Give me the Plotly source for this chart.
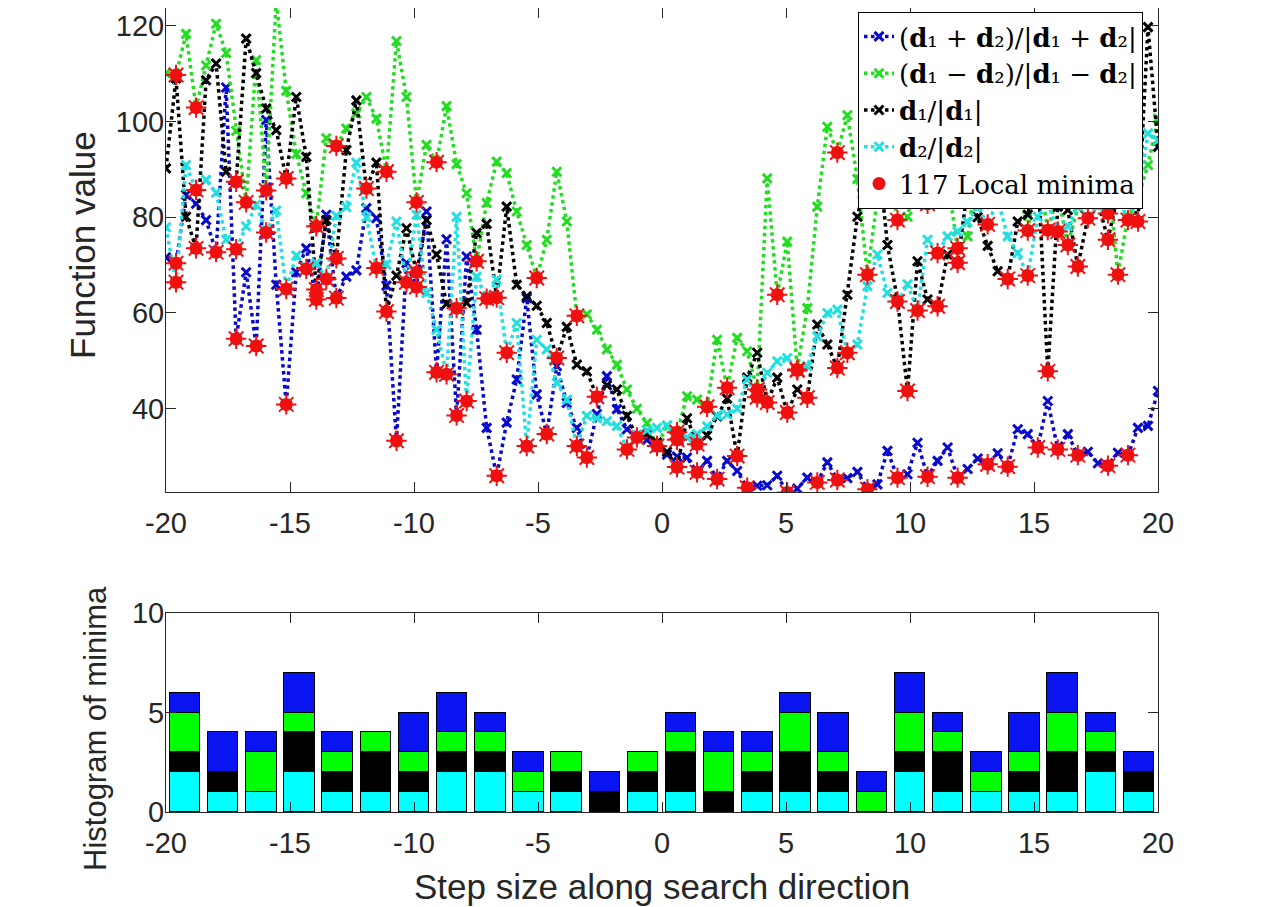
import numpy as np
import plotly.graph_objs as go

# step sizes along the search direction (100 samples from -20 to 20)
step_size = np.linspace(-20, 20, 100)

# function value along each search direction
f_sum = [71.6, 70.4, 84.7, 82.8, 79.4, 72.7, 107.1, 54.6, 68.5, 53.1,
         100.3, 65.9, 40.9, 68.5, 73.5, 62.8, 80.5, 63.1, 67.6, 68.9,
         81.9, 79.8, 65.7, 33.3, 70.4, 65.4, 81.2, 47.6, 75.4, 38.6,
         71.8, 56.5, 36.0, 26.0, 37.1, 46.1, 63.1, 43.0, 34.7, 48.9,
         41.2, 36.0, 29.8, 38.9, 46.8, 39.9, 35.7, 34.5, 33.5, 32.0,
         30.4, 30.0, 29.8, 26.7, 29.1, 25.3, 29.1, 27.0, 23.5, 23.9,
         24.0, 26.0, 22.5, 23.3, 25.6, 24.6, 28.8, 25.1, 25.5, 26.8,
         23.2, 24.2, 31.2, 25.6, 26.3, 32.9, 25.8, 29.1, 31.9, 25.6,
         27.4, 29.6, 28.4, 30.7, 27.9, 35.7, 34.7, 31.9, 41.6, 31.5,
         34.7, 30.3, 31.0, 28.6, 28.1, 30.8, 30.3, 36.0, 36.4, 43.7]

f_diff = [110.1, 109.7, 118.3, 102.9, 111.7, 120.4, 114.3, 98.0, 83.1, 112.8,
          85.6, 125.3, 106.4, 93.2, 85.0, 78.1, 96.5, 94.9, 98.5, 101.7,
          105.1, 100.6, 89.5, 116.8, 105.1, 83.1, 95.1, 91.5, 103.2, 91.1,
          85.0, 70.8, 83.0, 91.6, 89.2, 81.2, 74.2, 67.3, 75.3, 89.5,
          79.1, 59.4, 59.7, 56.5, 52.4, 49.2, 44.0, 40.0, 37.0, 32.2,
          36.5, 35.1, 42.6, 41.9, 40.4, 54.4, 44.4, 54.8, 52.0, 44.0,
          88.1, 63.8, 74.9, 48.2, 61.0, 82.2, 98.9, 93.5, 101.3, 88.0,
          68.0, 84.0, 92.0, 79.4, 80.1, 90.0, 82.8, 90.0, 88.0, 73.5,
          76.0, 90.0, 83.8, 92.0, 96.0, 88.0, 77.2, 90.0, 77.3, 85.0,
          74.2, 82.0, 88.0, 89.0, 91.0, 68.0, 80.2, 84.0, 90.9, 100.6]

f_d1 = [90.2, 109.0, 80.1, 73.5, 108.6, 112.1, 89.5, 87.4, 117.3, 110.1,
        102.7, 98.2, 88.1, 105.1, 92.6, 64.9, 79.4, 71.4, 94.0, 104.4,
        86.0, 91.4, 60.3, 67.8, 77.7, 68.5, 79.4, 72.2, 61.9, 61.0,
        62.1, 76.7, 78.6, 63.2, 82.2, 65.9, 63.5, 61.5, 57.9, 50.6,
        57.1, 49.2, 47.8, 42.5, 44.9, 44.0, 38.5, 34.0, 34.6, 33.0,
        31.0, 27.8, 38.0, 32.6, 34.4, 38.4, 42.1, 30.1, 46.5, 51.7,
        41.3, 46.5, 39.2, 44.0, 42.3, 57.6, 53.4, 48.5, 63.8, 80.1,
        90.0, 95.0, 74.2, 62.8, 43.7, 70.8, 62.8, 61.4, 72.2, 70.5,
        86.0, 80.0, 74.0, 68.7, 67.1, 79.1, 80.5, 90.0, 47.8, 82.2,
        81.5, 69.7, 80.0, 83.3, 75.3, 84.7, 88.0, 79.1, 119.7, 94.7]

f_d2 = [77.9, 66.4, 90.9, 85.7, 87.8, 85.1, 75.3, 73.3, 78.1, 82.6,
        76.8, 81.4, 65.0, 72.0, 69.2, 70.4, 67.1, 80.3, 82.1, 91.4,
        80.0, 69.4, 70.1, 79.1, 66.4, 80.5, 64.2, 56.5, 47.2, 80.1,
        41.6, 67.6, 63.0, 67.0, 51.7, 57.9, 32.2, 54.4, 52.4, 45.4,
        41.9, 32.2, 38.5, 38.0, 37.4, 36.4, 31.5, 34.5, 35.5, 36.0,
        36.5, 33.5, 34.0, 34.7, 36.3, 38.6, 38.8, 40.0, 46.1, 42.4,
        47.5, 49.9, 50.6, 48.0, 48.9, 55.1, 60.0, 60.7, 51.7, 53.4,
        65.6, 72.2, 64.2, 62.4, 66.0, 60.5, 75.3, 72.5, 76.0, 77.0,
        79.0, 82.2, 78.5, 83.6, 76.0, 72.5, 67.8, 80.1, 83.0, 77.0,
        78.1, 82.2, 79.8, 82.2, 80.8, 84.3, 79.4, 83.6, 97.5, 96.1]

# histogram of minima, 26 bins, stacked bottom to top: d2, d1, diff, sum
hist_d2 = [2, 1, 1, 2, 1, 1, 1, 2, 2, 1, 1, 0, 1, 1, 0, 1, 1, 1, 0, 2, 1, 1, 1, 1, 2, 1]
hist_d1 = [1, 1, 0, 2, 1, 2, 1, 1, 1, 0, 1, 1, 1, 2, 1, 1, 2, 1, 0, 1, 2, 0, 1, 2, 1, 1]
hist_diff = [2, 0, 2, 1, 1, 1, 1, 1, 1, 1, 1, 0, 1, 1, 2, 1, 2, 1, 1, 2, 1, 1, 1, 2, 1, 0]
hist_sum = [1, 2, 1, 2, 1, 0, 2, 2, 1, 1, 0, 1, 0, 1, 1, 1, 1, 2, 1, 2, 1, 1, 2, 2, 1, 1]

x_ticks = [-20, -15, -10, -5, 0, 5, 10, 15, 20]
x_tick_text = ['-20', '-15', '-10', '-5', '0', '5', '10', '15', '20']

# the page body has an 8px margin, so the figure is made that much smaller
OFF = 8
W, H = 1280 - OFF, 907 - OFF
AXIS_COLOR = '#262626'
MIN_COLOR = '#f01010'
TICK_FONT = dict(family='Liberation Sans, Arial', size=29, color=AXIS_COLOR)
LEGEND_FONT = dict(family='DejaVu Serif', size=26, color='black')


def px_x(p):
    return (p - OFF) / W


def px_y(p):
    return 1 - (p - OFF) / H


def local_minima(values):
    return [i for i in range(1, len(values) - 1)
            if values[i] < values[i - 1] and values[i] < values[i + 1]]


series = [
    ('(<b>d</b>\u2081 + <b>d</b>\u2082)/|<b>d</b>\u2081 + <b>d</b>\u2082|', f_sum, '#0808cc'),
    ('(<b>d</b>\u2081 \u2212 <b>d</b>\u2082)/|<b>d</b>\u2081 \u2212 <b>d</b>\u2082|', f_diff, '#22dd22'),
    ('<b>d</b>\u2081/|<b>d</b>\u2081|', f_d1, '#000000'),
    ('<b>d</b>\u2082/|<b>d</b>\u2082|', f_d2, '#22e0e0'),
]

fig = go.Figure()

# 折线：四个搜索方向
min_x, min_y = [], []
for name, vals, color in series:
    fig.add_trace(go.Scatter(
        x=step_size, y=vals, name=name, mode='lines+markers',
        line=dict(color=color, width=3.5, dash='dot'),
        marker=dict(symbol='x-thin', size=9, color=color, line=dict(color=color, width=3)),
        xaxis='x', yaxis='y'))
    for i in local_minima(vals):
        min_x.append(step_size[i])
        min_y.append(vals[i])

# 局部极小值（实心圆 + 星号叠加）
fig.add_trace(go.Scatter(
    x=min_x, y=min_y, name='117 Local minima', mode='markers',
    marker=dict(symbol='circle', size=13, color=MIN_COLOR, line=dict(width=0)),
    xaxis='x', yaxis='y'))
fig.add_trace(go.Scatter(
    x=min_x, y=min_y, mode='markers', showlegend=False, hoverinfo='skip',
    marker=dict(symbol='asterisk-open', size=17, color=MIN_COLOR,
                line=dict(color=MIN_COLOR, width=2)),
    xaxis='x', yaxis='y'))

# 直方图（堆叠）
n_bins = len(hist_sum)
bin_w = 40 / n_bins
centers = [-20 + bin_w * (k + 0.5) for k in range(n_bins)]
for counts, color in [(hist_d2, '#00ffff'), (hist_d1, '#000000'),
                      (hist_diff, '#00ff00'), (hist_sum, '#0a14f0')]:
    fig.add_trace(go.Bar(
        x=centers, y=counts, width=bin_w * 0.8, showlegend=False,
        marker=dict(color=color, line=dict(color='black', width=1)),
        xaxis='x2', yaxis='y2'))

x_dom = [px_x(166), px_x(1158)]
axis_common = dict(showline=True, linecolor=AXIS_COLOR, linewidth=1, mirror='ticks',
                   ticks='inside', ticklen=10, tickcolor=AXIS_COLOR, tickfont=TICK_FONT,
                   showgrid=False, zeroline=False, automargin=False)

fig.update_layout(
    template='none',
    width=W, height=H,
    margin=dict(l=0, r=0, t=0, b=0, autoexpand=False),
    paper_bgcolor='white', plot_bgcolor='white',
    barmode='stack', bargap=0,
    xaxis=dict(domain=x_dom, range=[-20, 20], anchor='y', tickvals=x_ticks,
               ticktext=x_tick_text, ticklabelstandoff=5, **axis_common),
    yaxis=dict(domain=[px_y(492), 1.0], range=[22.6, 123.7], anchor='x',
               tickvals=[40, 60, 80, 100, 120], ticklabelstandoff=-5, **axis_common),
    xaxis2=dict(domain=x_dom, range=[-20, 20], anchor='y2', tickvals=x_ticks,
                ticktext=x_tick_text, ticklabelstandoff=5, **axis_common),
    yaxis2=dict(domain=[px_y(812), px_y(613)], range=[0, 10], anchor='x2',
                tickvals=[0, 5, 10], ticklabelstandoff=-5, **axis_common),
    legend=dict(x=px_x(1143), y=px_y(12), xanchor='right', yanchor='top',
                bgcolor='white', bordercolor='black', borderwidth=1,
                font=LEGEND_FONT, tracegroupgap=0, traceorder='normal'),
    showlegend=True,
)

# 坐标轴标题
for text, x, y, angle, size in [('Function value', 82, 245, -90, 35),
                                ('Histogram of minima', 95, 729, -90, 31),
                                ('Step size along search direction', 662, 886, 0, 35)]:
    fig.add_annotation(text=text, x=px_x(x), y=px_y(y), xref='paper', yref='paper',
                       xanchor='center', yanchor='middle', textangle=angle, showarrow=False,
                       font=dict(family='Liberation Sans, Arial', size=size, color=AXIS_COLOR))

fig.write_html('out.html')
